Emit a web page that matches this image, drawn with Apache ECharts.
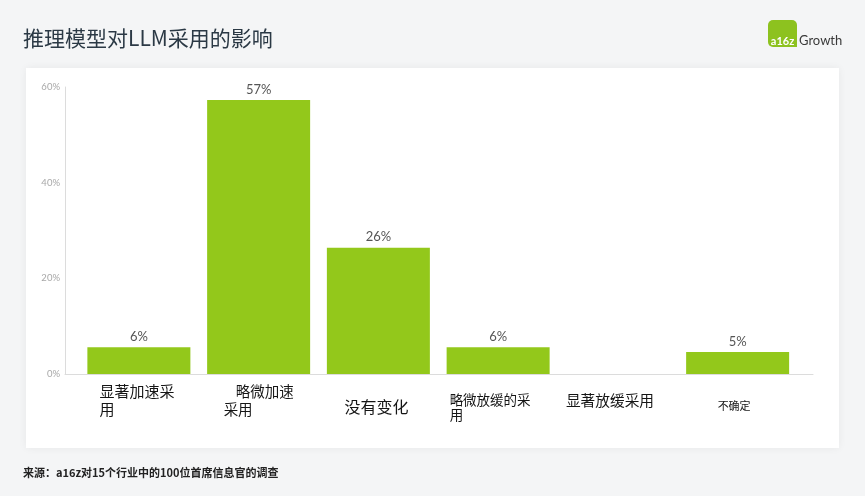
<!DOCTYPE html>
<html>
<head>
<meta charset="utf-8">
<script src="https://cdn.jsdelivr.net/npm/echarts@6/dist/echarts.min.js"></script>
<style>
html,body{margin:0;padding:0;background:#f4f5f6;}
#chart{width:865px;height:496px;}
</style>
</head>
<body>
<div id="chart"></div>
<script>
const titleText = '推理模型对LLM采用的影响';
const sourceText = '来源：a16z对15个行业中的100位首席信息官的调查';
const categories = ['显著加速采\n用', '略微加速\n采用', '没有变化', '略微放缓的采\n用', '显著放缓采用', '不确定'];
const shares = [5.6, 57.3, 26.4, 5.6, 0, 4.6];
const yTicks = [0, 20, 40, 60];

const lineStyles = [['a', 'a'], ['b1', 'b2'], ['c'], ['d', 'd'], ['e'], ['f']];
const labelPrefix = ['', '', '', '{sp| }\n', '', ''];
const cjk = 'Noto Sans CJK SC';
const lat = 'Lato, "Noto Sans", sans-serif';
const ink = '#151515';

const chart = echarts.init(document.getElementById('chart'), null, {renderer: 'canvas'});
chart.setOption({
  backgroundColor: '#f4f5f6',
  animation: false,
  title: [
    {text: titleText, left: 23, top: 28, padding: 0,
     textStyle: {fontFamily: cjk, fontSize: 21, fontWeight: 'normal', color: '#2b3945'}},
    {text: sourceText, left: 23, top: 467, padding: 0,
     textStyle: {fontFamily: cjk, fontSize: 11, fontWeight: 'bold', color: '#222'}}
  ],
  graphic: [
    {type: 'rect', z: -10, shape: {x: 26, y: 68, width: 813, height: 380},
     style: {fill: '#ffffff', shadowBlur: 8, shadowColor: 'rgba(0,0,0,0.06)'}},
    {type: 'rect', z: 10, shape: {x: 768, y: 20, width: 29, height: 27, r: [5, 5, 0, 5]},
     style: {fill: '#8dc21f'}},
    {type: 'text', z: 11, x: 782.5, y: 41, style: {text: 'a16z', fill: '#ffffff', fontFamily: 'Lato, sans-serif', fontSize: 11, fontWeight: 'bold', align: 'center', verticalAlign: 'middle'}},
    {type: 'text', z: 11, x: 799, y: 41, style: {text: 'Growth', fill: '#3a3a3a', fontFamily: 'Lato, sans-serif', fontSize: 13, align: 'left', verticalAlign: 'middle'}}
  ],
  grid: [
    {left: 79, right: 67.5, top: 87, bottom: 122},
    {left: 65, right: 52, top: 87, bottom: 122}
  ],
  xAxis: [
    {type: 'category', gridIndex: 0, data: categories,
     axisLine: {show: false}, axisTick: {show: false},
     axisLabel: {
       interval: 0, margin: 8, color: ink, fontFamily: cjk,
       formatter: function (v, i) {
         const lines = v.split('\n');
         return labelPrefix[i] + lines.map((t, k) => '{' + lineStyles[i][k] + '|' + t + '}').join('\n');
       },
       rich: {
         a: {fontFamily: cjk, fontSize: 15, lineHeight: 18, color: ink, width: 79, align: 'left'},
         b1: {fontFamily: cjk, fontSize: 14.5, lineHeight: 18, color: ink, width: 70, align: 'right'},
         b2: {fontFamily: cjk, fontSize: 14.5, lineHeight: 18, color: ink, width: 70, align: 'left'},
         c: {fontFamily: cjk, fontSize: 16, lineHeight: 50, color: ink, width: 68, align: 'left'},
         sp: {fontSize: 1, lineHeight: 10},
         d: {fontFamily: cjk, fontSize: 13.5, lineHeight: 15, color: ink, width: 97, align: 'left'},
         e: {fontFamily: cjk, fontSize: 14.7, lineHeight: 36, color: ink, width: 104, align: 'left'},
         f: {fontFamily: cjk, fontSize: 11, lineHeight: 48, color: ink, width: 40, align: 'left'}
       }
     }},
    {type: 'value', gridIndex: 1, min: 0, max: 1,
     axisLine: {show: true, lineStyle: {color: '#dcdcdc', width: 1}},
     axisTick: {show: false}, axisLabel: {show: false}, splitLine: {show: false}}
  ],
  yAxis: [
    {type: 'value', gridIndex: 0, min: yTicks[0], max: yTicks[yTicks.length - 1], interval: yTicks[1] - yTicks[0], show: false},
    {type: 'value', gridIndex: 1, min: yTicks[0], max: yTicks[yTicks.length - 1], interval: yTicks[1] - yTicks[0],
     axisLine: {show: true, lineStyle: {color: '#dcdcdc', width: 1}},
     axisTick: {show: false}, splitLine: {show: false},
     axisLabel: {formatter: '{value}%', margin: 5, fontSize: 9.5, color: '#a8a8a8', fontFamily: lat}}
  ],
  series: [
    {type: 'bar', xAxisIndex: 0, yAxisIndex: 0, data: shares, barWidth: 103,
     itemStyle: {color: '#93c81b'},
     label: {show: true, position: 'top', distance: 4, fontSize: 13, color: '#555', fontFamily: lat,
       formatter: p => p.value > 0 ? Math.round(p.value) + '%' : ''}}
  ]
});
</script>
</body>
</html>
